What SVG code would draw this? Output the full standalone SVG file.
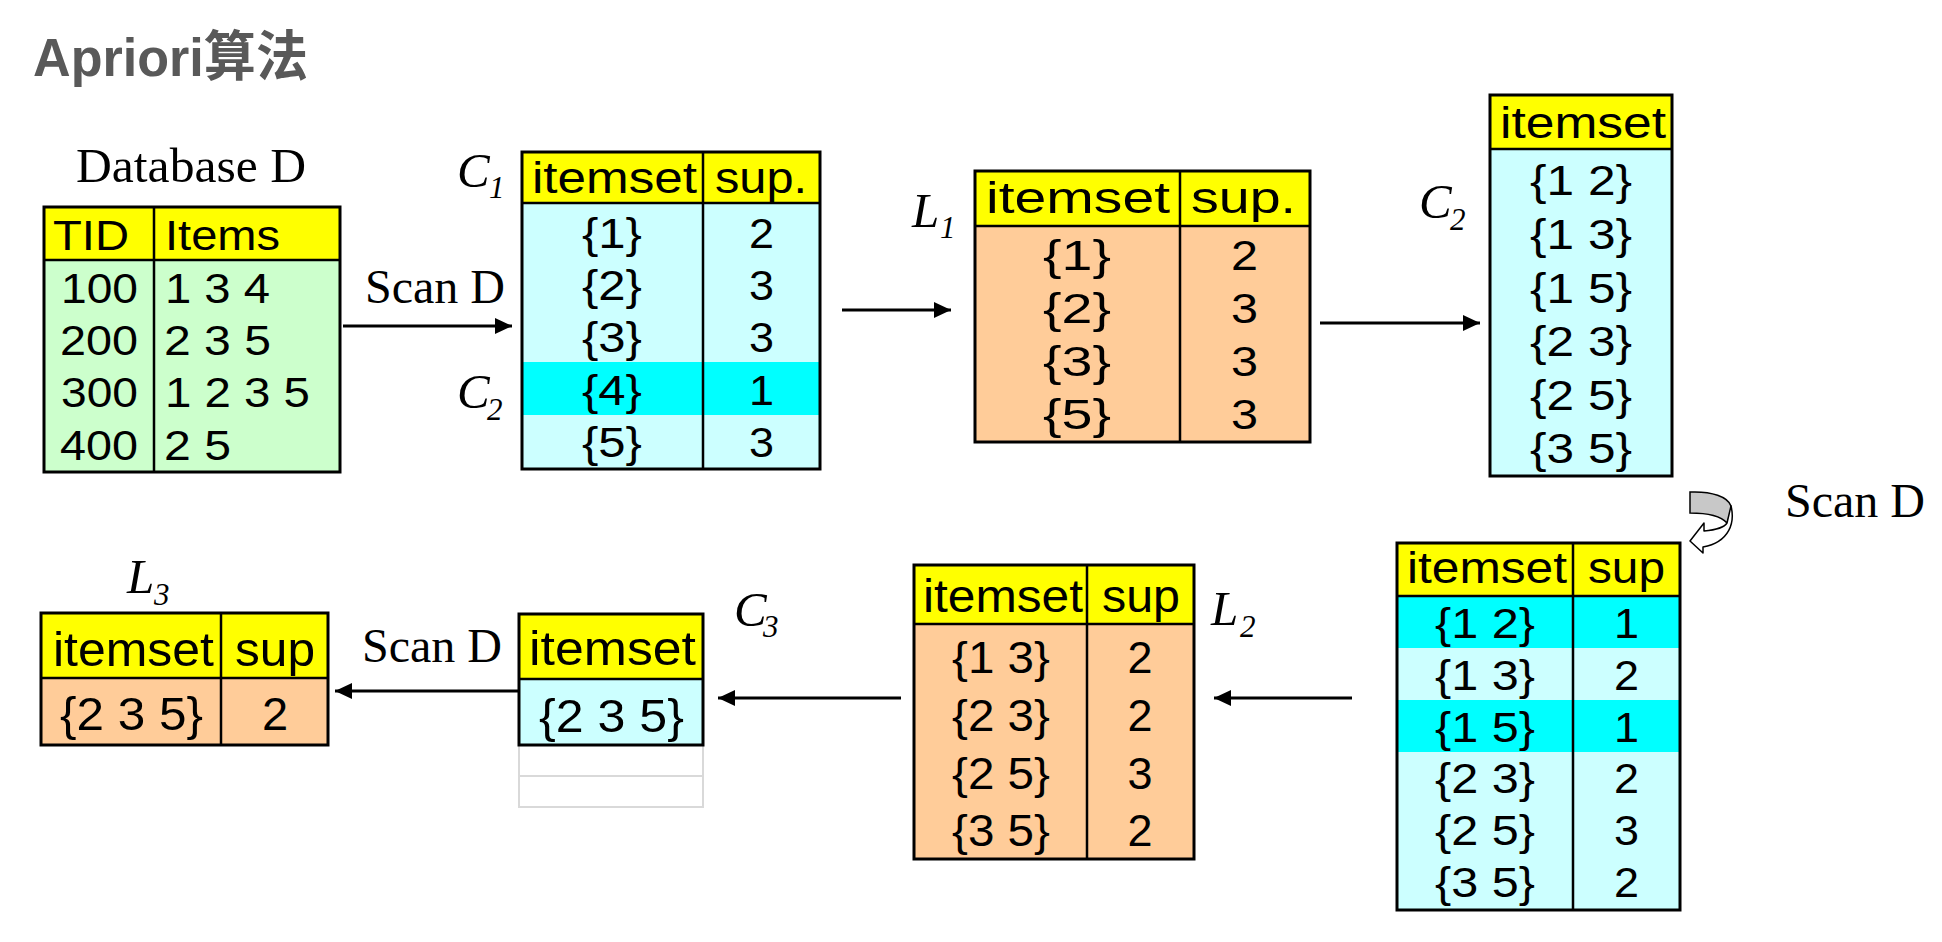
<svg xmlns="http://www.w3.org/2000/svg" width="1942" height="942" viewBox="0 0 1942 942">
<style>
.t{font-family:"Liberation Sans",Arial,sans-serif;font-size:42px;fill:#000}
.h{font-size:44px}
.m{text-anchor:middle}
.s{font-family:"Liberation Serif","Times New Roman",serif;font-size:48px;fill:#000}
.i{font-family:"Liberation Serif","Times New Roman",serif;font-style:italic;font-size:49px;fill:#000}
.sub{font-size:31px}
.box{fill:none;stroke:#000;stroke-width:3}
.ln{stroke:#000;stroke-width:2.5}
.y{fill:#FFFF00}
.g{fill:#CCFFCC}
.c{fill:#CCFFFF}
.hc{fill:#00FFFF}
.o{fill:#FFCC99}
.ar{stroke:#000;stroke-width:3;fill:none;marker-end:url(#ah)}
</style>
<defs>
<marker id="ah" markerUnits="userSpaceOnUse" markerWidth="18" markerHeight="16" refX="17" refY="8" orient="auto">
<path d="M0,0 L17,8 L0,16 Z" fill="#000"/>
</marker>
</defs>
<rect width="1942" height="942" fill="#fff"/>
<text x="33" y="76" style="font-family:'Liberation Sans','Noto Sans CJK SC',sans-serif;font-weight:bold;font-size:54px;fill:#595959" textLength="275" lengthAdjust="spacingAndGlyphs">Apriori算法</text>

<g id="labels">
<text class="s" x="76" y="182" textLength="230" lengthAdjust="spacingAndGlyphs">Database D</text>
<text class="s" x="365" y="303">Scan D</text>
<text class="s" x="1785" y="517">Scan D</text>
<text class="s" x="362" y="662">Scan D</text>
<text class="i" x="457" y="187">C</text><text class="i sub" x="489" y="198">1</text>
<text class="i" x="457" y="408">C</text><text class="i sub" x="487" y="420">2</text>
<text class="i" x="912" y="227">L</text><text class="i sub" x="940" y="238">1</text>
<text class="i" x="1419" y="218">C</text><text class="i sub" x="1450" y="230">2</text>
<text class="i" x="1211" y="625">L</text><text class="i sub" x="1240" y="637">2</text>
<text class="i" x="734" y="626">C</text><text class="i sub" x="763" y="637">3</text>
<text class="i" x="127" y="593">L</text><text class="i sub" x="154" y="605">3</text>
</g>

<g id="db">
<rect class="y" x="44" y="207" width="296" height="53"/>
<rect class="g" x="44" y="260" width="296" height="212"/>
<line class="ln" x1="44" y1="260" x2="340" y2="260"/>
<line class="ln" x1="154" y1="207" x2="154" y2="472"/>
<rect class="box" x="44" y="207" width="296" height="265"/>
<text class="t" x="53" y="250" textLength="76" lengthAdjust="spacingAndGlyphs">TID</text>
<text class="t" x="165" y="250" textLength="115" lengthAdjust="spacingAndGlyphs">Items</text>
<text class="t" x="61" y="303" textLength="77" lengthAdjust="spacingAndGlyphs">100</text>
<text class="t" x="60" y="355" textLength="78" lengthAdjust="spacingAndGlyphs">200</text>
<text class="t" x="61" y="407" textLength="77" lengthAdjust="spacingAndGlyphs">300</text>
<text class="t" x="60" y="460" textLength="78" lengthAdjust="spacingAndGlyphs">400</text>
<text class="t" x="165" y="303" textLength="105" lengthAdjust="spacingAndGlyphs">1 3 4</text>
<text class="t" x="164" y="355" textLength="107" lengthAdjust="spacingAndGlyphs">2 3 5</text>
<text class="t" x="165" y="407" textLength="145" lengthAdjust="spacingAndGlyphs">1 2 3 5</text>
<text class="t" x="164" y="460" textLength="67" lengthAdjust="spacingAndGlyphs">2 5</text>
</g>

<g id="c1">
<rect class="y" x="522" y="152" width="298" height="51"/>
<rect class="c" x="522" y="203" width="298" height="266"/>
<rect class="hc" x="522" y="362" width="298" height="53"/>
<line class="ln" x1="522" y1="203" x2="820" y2="203"/>
<line class="ln" x1="703" y1="152" x2="703" y2="469"/>
<rect class="box" x="522" y="152" width="298" height="317"/>
<text class="t h" x="532" y="193" textLength="165" lengthAdjust="spacingAndGlyphs">itemset</text>
<text class="t h" x="715" y="193" textLength="92" lengthAdjust="spacingAndGlyphs">sup.</text>
<text class="t" x="582" y="248" textLength="60" lengthAdjust="spacingAndGlyphs">{1}</text>
<text class="t" x="582" y="300" textLength="60" lengthAdjust="spacingAndGlyphs">{2}</text>
<text class="t" x="582" y="352" textLength="60" lengthAdjust="spacingAndGlyphs">{3}</text>
<text class="t" x="582" y="405" textLength="60" lengthAdjust="spacingAndGlyphs">{4}</text>
<text class="t" x="582" y="457" textLength="60" lengthAdjust="spacingAndGlyphs">{5}</text>
<text class="t" x="749" y="248" textLength="25" lengthAdjust="spacingAndGlyphs">2</text>
<text class="t" x="749" y="300" textLength="25" lengthAdjust="spacingAndGlyphs">3</text>
<text class="t" x="749" y="352" textLength="25" lengthAdjust="spacingAndGlyphs">3</text>
<text class="t" x="749" y="405" textLength="25" lengthAdjust="spacingAndGlyphs">1</text>
<text class="t" x="749" y="457" textLength="25" lengthAdjust="spacingAndGlyphs">3</text>
</g>

<g id="l1">
<rect class="y" x="975" y="171" width="335" height="55"/>
<rect class="o" x="975" y="226" width="335" height="216"/>
<line class="ln" x1="975" y1="226" x2="1310" y2="226"/>
<line class="ln" x1="1180" y1="171" x2="1180" y2="442"/>
<rect class="box" x="975" y="171" width="335" height="271"/>
<text class="t h" x="986" y="213" textLength="184" lengthAdjust="spacingAndGlyphs">itemset</text>
<text class="t h" x="1191" y="213" textLength="105" lengthAdjust="spacingAndGlyphs">sup.</text>
<text class="t" x="1043" y="270" textLength="68" lengthAdjust="spacingAndGlyphs">{1}</text>
<text class="t" x="1043" y="323" textLength="68" lengthAdjust="spacingAndGlyphs">{2}</text>
<text class="t" x="1043" y="376" textLength="68" lengthAdjust="spacingAndGlyphs">{3}</text>
<text class="t" x="1043" y="429" textLength="68" lengthAdjust="spacingAndGlyphs">{5}</text>
<text class="t" x="1231" y="270" textLength="27" lengthAdjust="spacingAndGlyphs">2</text>
<text class="t" x="1231" y="323" textLength="27" lengthAdjust="spacingAndGlyphs">3</text>
<text class="t" x="1231" y="376" textLength="27" lengthAdjust="spacingAndGlyphs">3</text>
<text class="t" x="1231" y="429" textLength="27" lengthAdjust="spacingAndGlyphs">3</text>
</g>

<g id="c2">
<rect class="y" x="1490" y="95" width="182" height="54"/>
<rect class="c" x="1490" y="149" width="182" height="327"/>
<line class="ln" x1="1490" y1="149" x2="1672" y2="149"/>
<rect class="box" x="1490" y="95" width="182" height="381"/>
<text class="t h" x="1500" y="138" textLength="166" lengthAdjust="spacingAndGlyphs">itemset</text>
<text class="t" x="1530" y="195" textLength="102" lengthAdjust="spacingAndGlyphs">{1 2}</text>
<text class="t" x="1530" y="249" textLength="102" lengthAdjust="spacingAndGlyphs">{1 3}</text>
<text class="t" x="1530" y="303" textLength="102" lengthAdjust="spacingAndGlyphs">{1 5}</text>
<text class="t" x="1530" y="356" textLength="102" lengthAdjust="spacingAndGlyphs">{2 3}</text>
<text class="t" x="1530" y="410" textLength="102" lengthAdjust="spacingAndGlyphs">{2 5}</text>
<text class="t" x="1530" y="463" textLength="102" lengthAdjust="spacingAndGlyphs">{3 5}</text>
</g>

<g id="scan-icon">
<path d="M1690,492 C1712,491 1728,497 1731,506 C1731,512 1729,518 1727,523 C1720,515 1706,513 1690,513 Z" fill="#C8C8C8" stroke="#000" stroke-width="1.5"/>
<path d="M1731,506 C1735,522 1730,542 1703,547 L1703,553 L1690,541 L1704,523 L1704,531 C1715,530 1724,528 1727,523 Z" fill="#fff" stroke="#000" stroke-width="1.5" stroke-linejoin="round"/>
</g>

<g id="c2sup">
<rect class="y" x="1397" y="543" width="283" height="53"/>
<rect class="c" x="1397" y="596" width="283" height="314"/>
<rect class="hc" x="1397" y="596" width="283" height="52"/>
<rect class="hc" x="1397" y="700" width="283" height="52"/>
<line class="ln" x1="1397" y1="596" x2="1680" y2="596"/>
<line class="ln" x1="1573" y1="543" x2="1573" y2="910"/>
<rect class="box" x="1397" y="543" width="283" height="367"/>
<text class="t h" x="1407" y="583" textLength="160" lengthAdjust="spacingAndGlyphs">itemset</text>
<text class="t h" x="1588" y="583" textLength="77" lengthAdjust="spacingAndGlyphs">sup</text>
<text class="t" x="1435" y="638" textLength="100" lengthAdjust="spacingAndGlyphs">{1 2}</text>
<text class="t" x="1435" y="690" textLength="100" lengthAdjust="spacingAndGlyphs">{1 3}</text>
<text class="t" x="1435" y="742" textLength="100" lengthAdjust="spacingAndGlyphs">{1 5}</text>
<text class="t" x="1435" y="793" textLength="100" lengthAdjust="spacingAndGlyphs">{2 3}</text>
<text class="t" x="1435" y="845" textLength="100" lengthAdjust="spacingAndGlyphs">{2 5}</text>
<text class="t" x="1435" y="897" textLength="100" lengthAdjust="spacingAndGlyphs">{3 5}</text>
<text class="t" x="1614" y="638" textLength="25" lengthAdjust="spacingAndGlyphs">1</text>
<text class="t" x="1614" y="690" textLength="25" lengthAdjust="spacingAndGlyphs">2</text>
<text class="t" x="1614" y="742" textLength="25" lengthAdjust="spacingAndGlyphs">1</text>
<text class="t" x="1614" y="793" textLength="25" lengthAdjust="spacingAndGlyphs">2</text>
<text class="t" x="1614" y="845" textLength="25" lengthAdjust="spacingAndGlyphs">3</text>
<text class="t" x="1614" y="897" textLength="25" lengthAdjust="spacingAndGlyphs">2</text>
</g>

<g id="l2">
<rect class="y" x="914" y="565" width="280" height="59"/>
<rect class="o" x="914" y="624" width="280" height="235"/>
<line class="ln" x1="914" y1="624" x2="1194" y2="624"/>
<line class="ln" x1="1087" y1="565" x2="1087" y2="859"/>
<rect class="box" x="914" y="565" width="280" height="294"/>
<text class="t" x="923" y="612" style="font-size:46px" textLength="160" lengthAdjust="spacingAndGlyphs">itemset</text>
<text class="t" x="1102" y="612" style="font-size:46px" textLength="78" lengthAdjust="spacingAndGlyphs">sup</text>
<text class="t" x="952" y="673" style="font-size:45px" textLength="98" lengthAdjust="spacingAndGlyphs">{1 3}</text>
<text class="t" x="952" y="731" style="font-size:45px" textLength="98" lengthAdjust="spacingAndGlyphs">{2 3}</text>
<text class="t" x="952" y="789" style="font-size:45px" textLength="98" lengthAdjust="spacingAndGlyphs">{2 5}</text>
<text class="t" x="952" y="846" style="font-size:45px" textLength="98" lengthAdjust="spacingAndGlyphs">{3 5}</text>
<text class="t m" x="1140" y="673" style="font-size:45px">2</text>
<text class="t m" x="1140" y="731" style="font-size:45px">2</text>
<text class="t m" x="1140" y="789" style="font-size:45px">3</text>
<text class="t m" x="1140" y="846" style="font-size:45px">2</text>
</g>

<g id="c3">
<rect x="519" y="745" width="184" height="31" fill="#fff" stroke="#D9D9D9" stroke-width="2"/>
<rect x="519" y="776" width="184" height="31" fill="#fff" stroke="#D9D9D9" stroke-width="2"/>
<rect class="y" x="519" y="614" width="184" height="65"/>
<rect class="c" x="519" y="679" width="184" height="66"/>
<line class="ln" x1="519" y1="679" x2="703" y2="679"/>
<rect class="box" x="519" y="614" width="184" height="131"/>
<text class="t" x="529" y="665" style="font-size:48px" textLength="167" lengthAdjust="spacingAndGlyphs">itemset</text>
<text class="t" x="539" y="732" style="font-size:47px" textLength="145" lengthAdjust="spacingAndGlyphs">{2 3 5}</text>
</g>

<g id="l3">
<rect class="y" x="41" y="613" width="287" height="65"/>
<rect class="o" x="41" y="678" width="287" height="67"/>
<line class="ln" x1="41" y1="678" x2="328" y2="678"/>
<line class="ln" x1="221" y1="613" x2="221" y2="745"/>
<rect class="box" x="41" y="613" width="287" height="132"/>
<text class="t" x="53" y="666" style="font-size:48px" textLength="161" lengthAdjust="spacingAndGlyphs">itemset</text>
<text class="t" x="235" y="666" style="font-size:48px" textLength="80" lengthAdjust="spacingAndGlyphs">sup</text>
<text class="t" x="60" y="730" style="font-size:47px" textLength="143" lengthAdjust="spacingAndGlyphs">{2 3 5}</text>
<text class="t m" x="275" y="730" style="font-size:47px">2</text>
</g>

<g id="connectors">
<line class="ar" x1="343" y1="326" x2="512" y2="326"/>
<line class="ar" x1="842" y1="310" x2="951" y2="310"/>
<line class="ar" x1="1320" y1="323" x2="1480" y2="323"/>
<line class="ar" x1="1352" y1="698" x2="1214" y2="698"/>
<line class="ar" x1="901" y1="698" x2="718" y2="698"/>
<line class="ar" x1="518" y1="691" x2="335" y2="691"/>
</g>
</svg>
